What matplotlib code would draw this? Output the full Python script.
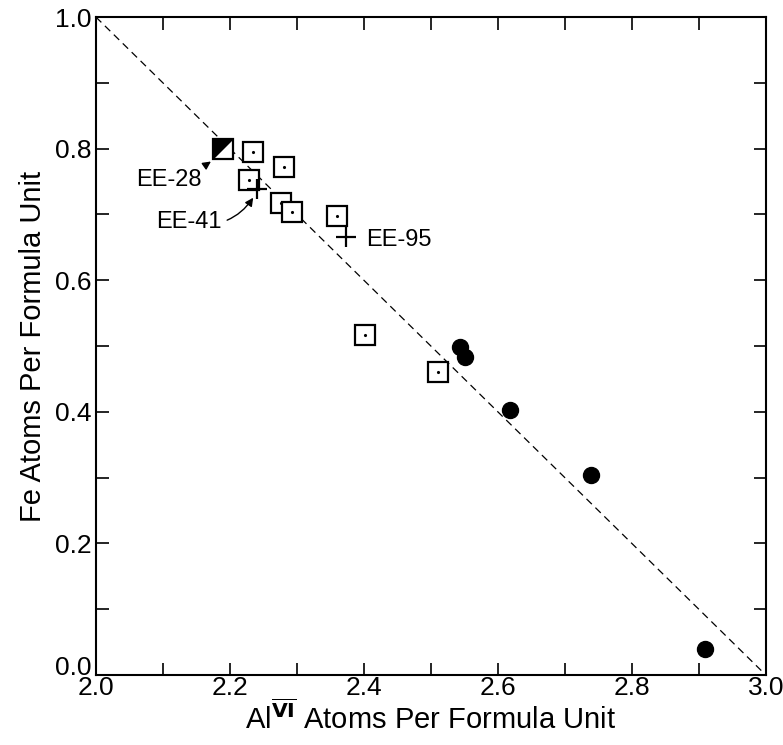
import matplotlib.pyplot as plt
import matplotlib.transforms as mtransforms
import numpy as np

plt.rcParams['font.family'] = ['Liberation Sans', 'DejaVu Sans']
plt.rcParams['font.size'] = 18

# open squares (dot in centre)
sq_x = [2.235, 2.28, 2.229, 2.276, 2.293, 2.36, 2.401, 2.51]
sq_y = [0.795, 0.772, 0.752, 0.717, 0.704, 0.698, 0.517, 0.461]

# filled circles
ci_x = [2.544, 2.551, 2.618, 2.739, 2.909]
ci_y = [0.499, 0.483, 0.403, 0.304, 0.040]

# half-filled square EE-28
ee28 = (2.19, 0.80)

# crosses EE-41, EE-95
cr_x = [2.24, 2.373]
cr_y = [0.739, 0.666]

fig = plt.figure(figsize=(7.83, 7.45), dpi=100)
ax = fig.add_axes([0.1226, 0.094, 0.8554, 0.883])

# ideal substitution line Fe + Al(VI) = 3
ax.plot([2.0, 3.0], [1.0, 0.0], color='k', lw=0.9, ls=(0, (6, 4)), zorder=1)

ax.plot(sq_x, sq_y, 's', ms=15, mfc='white', mec='k', mew=1.6, zorder=3)
ax.plot(sq_x, sq_y, '.', ms=2.5, color='k', zorder=4)
ax.plot(ci_x, ci_y, 'o', ms=11.5, color='k', zorder=3)

tri = [(-1, -1), (-1, 1), (1, 1), (-1, -1)]
ax.plot(*ee28, marker='s', ms=15, mfc='white', mec='k', mew=1.6, zorder=3)
ax.plot(*ee28, marker=tri, ms=15, color='k', mew=0, zorder=4)

ax.plot(cr_x, cr_y, '+', ms=15, mew=1.6, color='k', zorder=5)

arr = dict(arrowstyle='-|>', color='k', lw=1.0, mutation_scale=12, shrinkA=2, shrinkB=2)
ax.annotate('EE-28', xy=(2.175, 0.783), xytext=(2.06, 0.752),
            fontsize=17, va='center', ha='left',
            arrowprops=dict(arr, connectionstyle='arc3,rad=0.1'))
ax.annotate('EE-41', xy=(2.237, 0.729), xytext=(2.09, 0.688),
            fontsize=17, va='center', ha='left',
            arrowprops=dict(arr, connectionstyle='arc3,rad=0.35'))
ax.text(2.404, 0.661, 'EE-95', fontsize=17, va='center', ha='left')

ax.set_xlim(2.0, 3.0)
ax.set_ylim(0.0, 1.0)
ax.set_xticks(np.arange(2.0, 3.01, 0.2))
ax.set_yticks(np.arange(0.0, 1.01, 0.2))
ax.set_xticks(np.arange(2.1, 3.0, 0.2), minor=True)
ax.set_yticks(np.arange(0.1, 1.0, 0.2), minor=True)
ax.xaxis.set_major_formatter(plt.FormatStrFormatter('%.1f'))
ax.yaxis.set_major_formatter(plt.FormatStrFormatter('%.1f'))
ax.tick_params(which='both', direction='in', length=9, width=1.2,
               top=True, right=True, labelsize=19)
ax.tick_params(axis='x', pad=1)
ax.tick_params(axis='y', pad=3)
for s in ax.spines.values():
    s.set_linewidth(1.5)

# lift the "0.0" label a little so it clears "2.0"
lbl0 = ax.get_yticklabels()[0]
lbl0.set_transform(lbl0.get_transform() +
                   mtransforms.ScaledTranslation(0, 7 / 72, fig.dpi_scale_trans))

ax.set_xlabel(r'Al$^{\overline{\mathbf{VI}}}$ Atoms Per Formula Unit', fontsize=21, labelpad=0)
ax.set_ylabel('Fe Atoms Per Formula Unit', fontsize=21, labelpad=6)

plt.savefig('out.png', dpi=100)
